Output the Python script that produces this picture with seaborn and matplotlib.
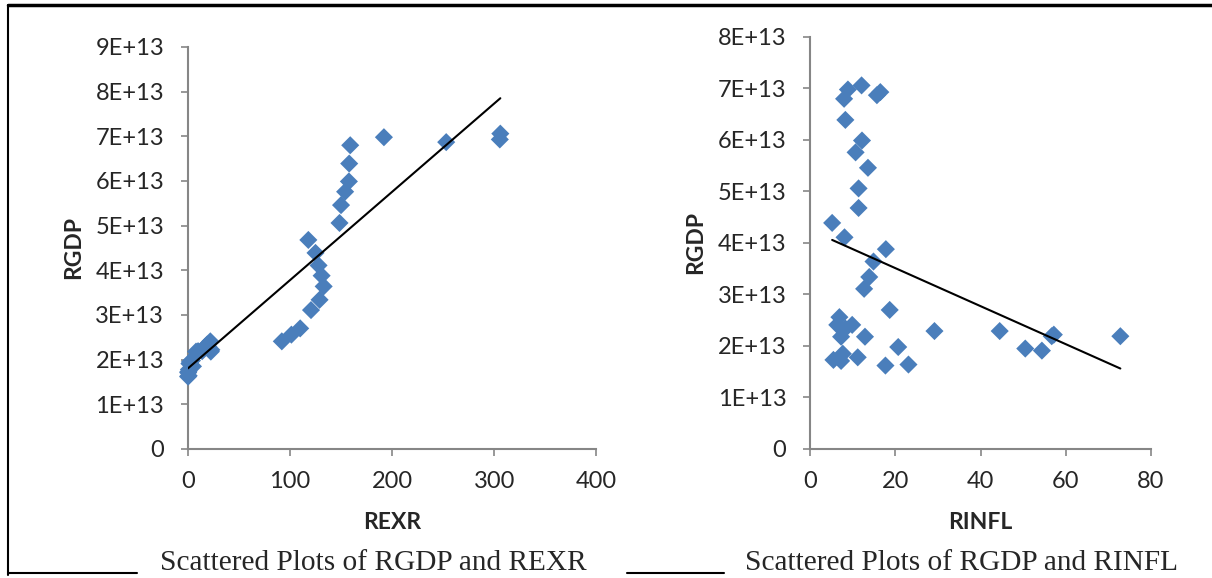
import numpy as np
import pandas as pd
import matplotlib
matplotlib.use("Agg")
import matplotlib.pyplot as plt
from matplotlib.lines import Line2D
from matplotlib.ticker import FuncFormatter
import seaborn as sns

# values (RGDP in units of 1E+13)
rgdp = [7.06, 6.98, 6.93, 6.87, 6.80, 6.39, 5.99, 5.76, 5.46, 5.06,
        4.68, 4.39, 4.11, 3.88, 3.64, 3.34, 3.11, 2.70, 2.56, 2.41,
        2.41, 2.34, 2.29, 2.29, 2.22, 2.19, 2.19, 2.18, 2.18, 1.98,
        1.95, 1.91, 1.85, 1.78, 1.73, 1.71, 1.64, 1.62]
rexr = [306, 192, 305.5, 253, 159, 158, 157.7, 154, 150, 148.5,
        118, 125, 128, 131, 133, 129, 120.6, 110, 101.4, 92,
        22, 19, 20, 17, 23, 14, 10, 8, 22.5, 4,
        2, 1.5, 5, 1, 0.5, 0.3, 0.8, 0.2]
rinfl = [12.1, 8.9, 16.5, 15.7, 8.0, 8.3, 12.2, 10.7, 13.6, 11.4,
         11.4, 5.2, 8.1, 17.8, 14.9, 13.9, 12.7, 18.7, 6.9, 6.4,
         9.9, 8.3, 29.2, 44.5, 57.2, 56.7, 72.8, 12.9, 7.3, 20.7,
         50.5, 54.4, 7.7, 11.2, 5.5, 7.3, 23.1, 17.7]

df = pd.DataFrame({"RGDP": np.array(rgdp) * 1e13, "REXR": rexr, "RINFL": rinfl})

sns.set_style("white")
plt.rcParams["font.family"] = ["Lato", "DejaVu Sans"]

BLUE = "#4A7EBB"
GRAY = "#868686"

fig = plt.figure(figsize=(12.12, 5.78), dpi=100)
ax1 = fig.add_axes([0.155, 0.2232, 0.337, 0.6955])
ax2 = fig.add_axes([0.6683, 0.2232, 0.2814, 0.7128])


def sci(v, pos):
    if v == 0:
        return "0"
    return f"{v / 1e13:.0f}E+13"


def style_axis(ax, xmax, xstep, ymax, xlabel):
    ax.set_xlim(0, xmax)
    ax.set_ylim(0, ymax)
    ax.set_xticks(np.arange(0, xmax + 1, xstep))
    ax.set_yticks(np.arange(0, ymax + 1, 1e13))
    ax.yaxis.set_major_formatter(FuncFormatter(sci))
    for s in ["top", "right"]:
        ax.spines[s].set_visible(False)
    for s in ["left", "bottom"]:
        ax.spines[s].set_color(GRAY)
        ax.spines[s].set_linewidth(1.5)
    ax.tick_params(axis="both", direction="out", length=5, width=1.2,
                   color=GRAY, labelsize=17, left=True, bottom=True)
    ax.tick_params(axis="y", pad=12)
    ax.tick_params(axis="x", pad=11)
    ax.set_xlabel(xlabel, fontsize=16.5, fontweight="bold", labelpad=14)
    ax.set_ylabel("RGDP", fontsize=16.5, fontweight="bold", labelpad=8)


for ax, xcol, xmax, xstep, ymax in [(ax1, "REXR", 400, 100, 9e13),
                                    (ax2, "RINFL", 80, 20, 8e13)]:
    sns.scatterplot(data=df, x=xcol, y="RGDP", ax=ax, marker="D", s=85,
                    color=BLUE, edgecolor="none", zorder=3, clip_on=False)
    sns.regplot(data=df, x=xcol, y="RGDP", ax=ax, scatter=False, ci=None,
                truncate=True, line_kws={"color": "black", "lw": 1.5, "zorder": 4})
    style_axis(ax, xmax, xstep, ymax, xcol)

# page frame and caption rules
frame = dict(color="black", transform=fig.transFigure)
fig.add_artist(Line2D([0.0066, 1.0], [0.991, 0.991], lw=2.5, **frame))
fig.add_artist(Line2D([0.0066, 0.0066], [0.991, 0.005], lw=1.5, **frame))
fig.add_artist(Line2D([0.0066, 0.113], [0.008, 0.008], lw=1.5, **frame))
fig.add_artist(Line2D([0.517, 0.597], [0.008, 0.008], lw=1.5, **frame))

cap = dict(fontsize=21.2, family="Liberation Serif", va="baseline")
fig.text(0.132, 0.013, "Scattered Plots of RGDP and REXR", **cap)
fig.text(0.615, 0.013, "Scattered Plots of RGDP and RINFL", **cap)

fig.savefig("out.png", dpi=100)
